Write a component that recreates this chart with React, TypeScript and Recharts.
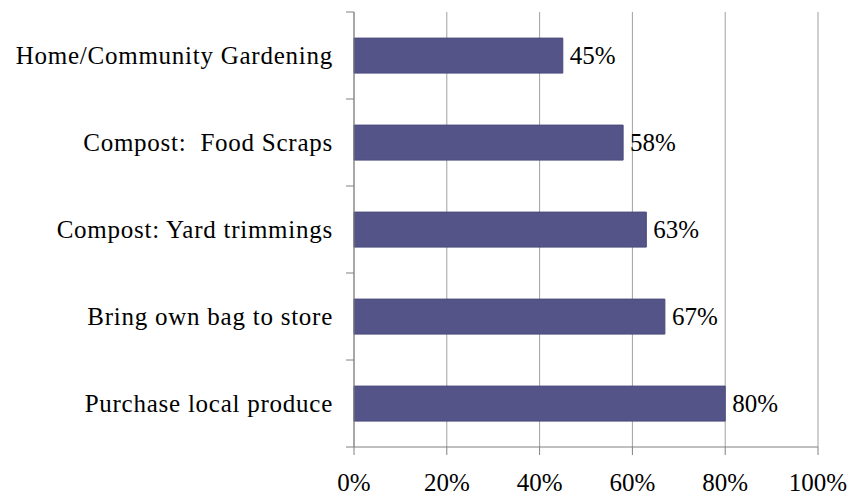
import React from 'react';
import { BarChart, Bar, XAxis, YAxis, CartesianGrid, LabelList } from 'recharts';

const categories = [
  'Home/Community Gardening',
  'Compost:  Food Scraps',
  'Compost: Yard trimmings',
  'Bring own bag to store',
  'Purchase local produce',
];
const values = [45, 58, 63, 67, 80];
const xTicks = [0, 20, 40, 60, 80, 100];

const data = categories.map((name, i) => ({ name, value: values[i] }));

const FONT = '"Liberation Serif", "DejaVu Serif", serif';
const W = 853;
const H = 496;
const X_AXIS_H = 49;
const M = { top: 12, right: 35, bottom: 0, left: 0 };
const BAND = (H - M.top - X_AXIS_H) / categories.length;

const YTick = (props: any) => {
  const { x, y, payload, index } = props;
  const axisX = x;
  return (
    <g>
      <line x1={axisX - 8} x2={axisX} y1={y - BAND / 2} y2={y - BAND / 2} stroke="#808080" />
      {index === categories.length - 1 && (
        <line x1={axisX - 8} x2={axisX} y1={y + BAND / 2} y2={y + BAND / 2} stroke="#808080" />
      )}
      <text
        x={axisX - 21}
        y={y}
        dy="0.35em"
        textAnchor="end"
        fontFamily={FONT}
        fontSize={25}
        letterSpacing={0.75}
        fill="#000"
        style={{ whiteSpace: 'pre' }}
      >
        {payload.value}
      </text>
    </g>
  );
};

export default function App() {
  return (
    <div style={{ position: 'absolute', left: 0, top: 0, background: '#fff' }}>
      <BarChart
        width={W}
        height={H}
        data={data}
        layout="vertical"
        margin={M}
        barCategoryGap="30%"
      >
        <CartesianGrid horizontal={false} stroke="#a0a0a0" />
        <XAxis
          type="number"
          domain={[0, 100]}
          ticks={xTicks}
          tickFormatter={(v) => `${v}%`}
          axisLine={{ stroke: '#808080' }}
          tickLine={{ stroke: '#808080' }}
          tickSize={8}
          tickMargin={18}
          height={X_AXIS_H}
          tick={{ fontFamily: FONT, fontSize: 25, fill: '#000' }}
        />
        <YAxis
          type="category"
          dataKey="name"
          width={354}
          axisLine={{ stroke: '#808080' }}
          tickLine={false}
          tickSize={0}
          tickMargin={0}
          tick={<YTick />}
          interval={0}
        />
        <Bar dataKey="value" fill="#545488" stroke="#4a4a7e" isAnimationActive={false}>
          <LabelList
            dataKey="value"
            position="right"
            offset={7}
            formatter={(v: any) => `${v}%`}
            style={{ fontFamily: FONT, fontSize: 25, fill: '#000' }}
          />
        </Bar>
      </BarChart>
    </div>
  );
}
